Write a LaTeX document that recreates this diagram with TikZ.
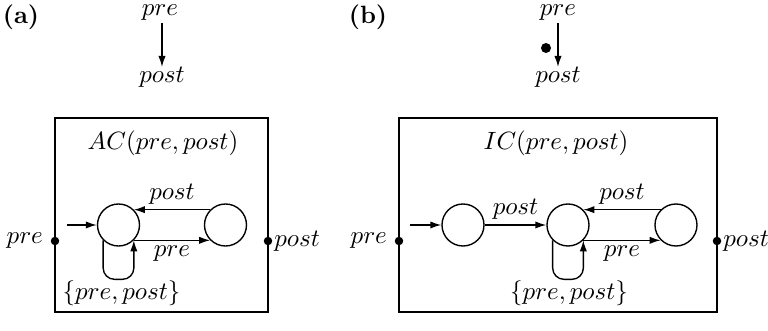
\documentclass[tikz,border=0pt]{standalone}
\usetikzlibrary{arrows.meta,positioning}
\begin{document}
\begin{tikzpicture}[x=0.4pt,y=-0.4pt,
  line width=0.55pt,
  arr/.style={-{Latex[length=4.4pt,width=2.9pt]}},
  state/.style={circle,draw,minimum size=16.8pt,inner sep=0pt},
  port/.style={circle,fill,inner sep=0pt,minimum size=3.4pt},
  lab/.style={inner sep=1pt}]
\useasboundingbox (0,0) rectangle (768,331);
% ---------- (a)
\node[lab] (ta) at (21,17) {\textbf{(a)}};
\node[inner sep=0pt] (apre) at (160,13) {$pre$};
\node[lab] (apost) at (162,77) {$post$};
\coordinate (aa1) at (162,23);
\coordinate (aa2) at (162,67);
\draw[arr] (aa1) -- (aa2);
\node[draw,minimum width=85.2pt,minimum height=77.6pt,inner sep=0pt] (boxa) at (161.5,215) {};
\node[lab] (aTitle) at (163,143) {$AC(pre,post)$};
\node[state] (aL) at (118.5,225) {};
\node[state] (aR) at (225.5,225) {};
\coordinate (ainit) at (67,225);
\draw[arr] (ainit) -- (aL);
\draw[arr] (aR.135) -- node[lab,above=1pt] {$post$} (aL.45);
\draw[arr] (aL.-45) -- node[lab,below=1pt] {$pre$} (aR.-135);
\draw[arr,rounded corners=4.5pt] (aL.-135) -- ++(0,39) -| (aL.-45);
\node[lab] (aloop) at (121.5,293) {$\{pre,post\}$};
\node[port] (ain) at (55,241) {};
\node[port] (aout) at (268,241) {};
\node[lab,left=1.6pt of ain] {$pre$};
\node[inner sep=0pt,right=0.3pt of aout] {$post$};
% ---------- (b)
\node[lab] (tb) at (368,17) {\textbf{(b)}};
\node[inner sep=0pt] (bpre) at (558,13) {$pre$};
\node[lab] (bpost) at (558,77) {$post$};
\coordinate (ba1) at (558,23);
\coordinate (ba2) at (558,67);
\draw[arr] (ba1) -- (ba2);
\node[port,minimum size=4pt] (bdot) at (546,48) {};
\node[draw,minimum width=127.2pt,minimum height=77.6pt,inner sep=0pt] (boxb) at (558,215) {};
\node[lab] (bTitle) at (556,143) {$IC(pre,post)$};
\node[state] (b1) at (463,225) {};
\node[state] (b2) at (568,225) {};
\node[state] (b3) at (676,225) {};
\coordinate (binit) at (410,225);
\draw[arr] (binit) -- (b1);
\draw[arr] (b1) -- node[lab,above=1pt] {$post$} (b2);
\draw[arr] (b3.135) -- node[lab,above=1pt] {$post$} (b2.45);
\draw[arr] (b2.-45) -- node[lab,below=1pt] {$pre$} (b3.-135);
\draw[arr,rounded corners=4.5pt] (b2.-135) -- ++(0,39) -| (b2.-45);
\node[lab] (bloop) at (569,293) {$\{pre,post\}$};
\node[port] (bin) at (399,241) {};
\node[port] (bout) at (717,241) {};
\node[lab,left=1.6pt of bin] {$pre$};
\node[inner sep=0pt,right=0.3pt of bout] {$post$};
\end{tikzpicture}
\end{document}
